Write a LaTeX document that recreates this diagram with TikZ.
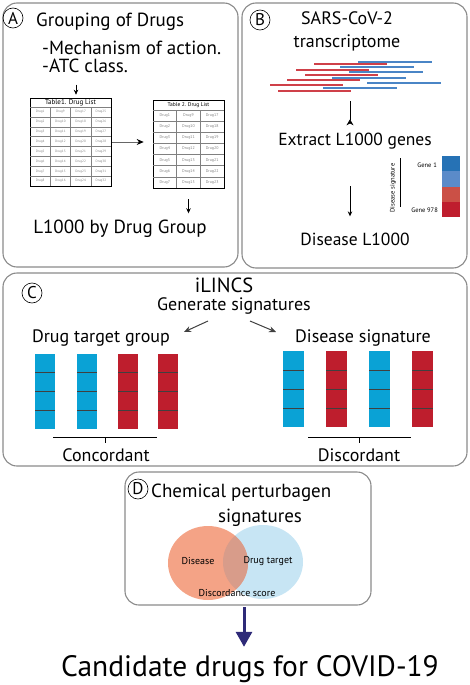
\documentclass[tikz,border=0pt]{standalone}
\usepackage{fontspec}
\setmainfont{PT Sans}
\usetikzlibrary{arrows.meta,positioning}

\definecolor{panelgray}{HTML}{8A8A8A}
\definecolor{sigblue}{HTML}{0AA2D5}
\definecolor{sigred}{HTML}{BE1E2D}
\definecolor{hmone}{HTML}{2672B5}
\definecolor{hmtwo}{HTML}{5B8BC9}
\definecolor{hmthree}{HTML}{CB5046}
\definecolor{hmfour}{HTML}{BF1E2E}
\definecolor{readred}{HTML}{CF4049}
\definecolor{readblue}{HTML}{4A85C6}
\definecolor{vennred}{HTML}{F4A386}
\definecolor{vennblue}{HTML}{C7E5F4}
\definecolor{vennmix}{HTML}{D89C8A}
\definecolor{navyarrow}{HTML}{2E2A78}

\begin{document}
\begin{tikzpicture}[x=1pt,y=-1pt,
  panel/.style={draw=panelgray,line width=1.1pt,rounded corners=14pt},
  letter/.style={draw,circle,line width=0.6pt,inner sep=0pt,minimum size=20pt,font=\fontsize{17}{17}\selectfont},
  big/.style={font=\fontsize{19}{19}\selectfont,inner sep=0pt},
  mid/.style={font=\fontsize{17.5}{17.5}\selectfont,inner sep=0pt},
  small/.style={font=\fontsize{10}{10}\selectfont,inner sep=0pt},
  tiny/.style={font=\fontsize{6.5}{6.5}\selectfont,inner sep=0pt},
  cell/.style={font=\fontsize{3.3}{3.3}\selectfont,text=gray,inner sep=0pt},
  grid/.style={draw=gray,line width=0.45pt},
  segline/.style={draw=black!75,line width=0.6pt},
  arr/.style={-{Stealth[length=5pt,width=4.5pt]},line width=0.7pt},
  garr/.style={-{Stealth[length=7pt,width=6pt]},draw=black!75,line width=1pt}]
\useasboundingbox (0,0) rectangle (470,685);

% panels
\draw[panel] (3,3) rectangle (238,267);
\draw[panel] (242,3) rectangle (467,268);
\draw[panel] (3,273) rectangle (467,466);
\draw[panel] (125,472) rectangle (371,605);

% A
\node[letter] (lA) at (13,18) {A};
\node[big,anchor=base west] (grp) at (36,27) {Grouping of Drugs};
\node[big,anchor=base west] (moa) at (42,55) {-Mechanism of action.};
\node[big,anchor=base west] (atc) at (42,73) {-ATC class.};

\node[draw,line width=0.6pt,minimum width=81pt,minimum height=88pt,inner sep=0pt] (tab1) at (70.5,142) {};
\node[draw,line width=0.6pt,minimum width=71pt,minimum height=88pt,inner sep=0pt] (tab2) at (188.5,144) {};
\node[font=\fontsize{7}{7}\selectfont,inner sep=0pt] (tit1) at (70.5,102.5) {Table1. Drug List};
\node[font=\fontsize{5.5}{5.5}\selectfont,inner sep=0pt] (tit2) at (188.5,105) {Table 2. Drug List};
\draw[grid] (30,107) -- (111,107);
\draw[grid] (153,110) -- (224,110);
\foreach \r in {1,...,8} {
  \ifnum\r<8 \draw[grid] (30,107+\r*9.875) -- (111,107+\r*9.875); \fi
  \foreach \c in {0,1,2,3} {
    \pgfmathtruncatemacro\n{\r+8*\c}
    \node[cell] (d1-\r-\c) at (40.1+\c*20.25,102.06+\r*9.875) {Drug\n};
  }
}
\foreach \c in {1,2,3} \draw[grid] (30+\c*20.25,107) -- (30+\c*20.25,186);
\foreach \r in {1,...,7} {
  \ifnum\r<7 \draw[grid] (153,110+\r*11.14) -- (224,110+\r*11.14); \fi
  \foreach \c in {0,1,2} {
    \pgfmathtruncatemacro\n{\r+8*\c}
    \node[cell,font=\fontsize{4}{4}\selectfont] (d2-\r-\c) at (164.8+\c*23.67,104.43+\r*11.14) {Drug\n};
  }
}
\foreach \c in {1,2} \draw[grid] (153+\c*23.67,110) -- (153+\c*23.67,188);

\node[big,anchor=base] (l1k) at (120,233) {L1000 by Drug Group};
\draw[arr] ([xshift=5.5pt,yshift=13pt]tab1.north) -- ([xshift=5.5pt,yshift=3pt]tab1.north);
\draw[-{Stealth[length=7pt,width=6pt,black]},draw=black!60,line width=0.8pt,shorten <=1pt,shorten >=9pt] (tab1.east) -- (tab1.east -| tab2.west);
\draw[arr,shorten <=11pt,shorten >=6pt] (tab2.south) -- (tab2.south |- l1k.north);

% B
\node[letter] (lB) at (260,20) {B};
\node[mid,font=\fontsize{18}{18}\selectfont,anchor=base] (sars) at (347,25) {SARS-CoV-2};
\node[mid,font=\fontsize{18}{18}\selectfont,anchor=base] (trs) at (347,48) {transcriptome};
\foreach \xa/\y in {358/62,340/67,349/72,332/78,367/83,323/88}
  \draw[readblue,line width=1.3pt] (\xa,\y) -- ++(74,0);
\foreach \xa/\y in {314/64,296/70,305/75,287/80,270/85,278/91}
  \draw[readred,line width=1.3pt] (\xa,\y) -- ++(73,0);
\coordinate (rd) at (350,101);
\node[mid,anchor=base] (ext) at (355,145) {Extract L1000 genes};
\draw[-{Stealth[length=6pt,width=7pt,reversed]},line width=0.7pt,shorten >=7pt] (rd) -- (rd |- ext.north);
\foreach \c [count=\i from 0] in {hmone,hmtwo,hmthree,hmfour}
  \fill[\c] (442,156+\i*15.25) rectangle ++(18,15.25);
\node[tiny,anchor=east] (g1) at (437,165) {Gene 1};
\node[tiny,anchor=east] (g978) at (438,210) {Gene 978};
\draw[line width=0.8pt] (400,158) -- (400,207);
\node[tiny,rotate=90] (dsig) at (393,188) {Disease signature};
\node[mid,anchor=base] (dl1k) at (355,245) {Disease L1000};
\coordinate (ea) at (350,186);
\draw[arr,shorten >=16pt] (ea) -- (ea |- dl1k.north);

% C
\node[letter] (lC) at (32,293) {C};
\node[font=\fontsize{20.5}{20.5}\selectfont,inner sep=0pt,anchor=base] (ilincs) at (224,292) {iLINCS};
\node[mid,font=\fontsize{18}{18}\selectfont,anchor=base] (gen) at (234,310) {Generate signatures};
\node[mid,font=\fontsize{18}{18}\selectfont,anchor=base] (dtg) at (101,342) {Drug target group};
\node[mid,font=\fontsize{18}{18}\selectfont,anchor=base] (dsg) at (363,342) {Disease signature};
\coordinate (ga) at (208,321);
\coordinate (gb) at (184,332);
\coordinate (gc) at (250,321);
\coordinate (gd) at (276,332);
\draw[garr] (ga) -- (gb);
\draw[garr] (gc) -- (gd);
\foreach \x/\c in {35/sigblue,77/sigblue,118/sigred,158/sigred} {
  \fill[\c] (\x,354) rectangle ++(20,75);
  \foreach \k in {1,2,3} \draw[segline] (\x,354+\k*18.75) -- ++(20,0);
}
\foreach \x/\c in {283/sigblue,326/sigred,369/sigblue,412/sigred} {
  \fill[\c] (\x,351) rectangle ++(21,76);
  \foreach \k in {1,2,3} \draw[segline] (\x,351+\k*19) -- ++(21,0);
}
\node[mid,font=\fontsize{18}{18}\selectfont,anchor=base] (conc) at (106,461) {Concordant};
\node[mid,font=\fontsize{18}{18}\selectfont,anchor=base] (disc) at (359,461) {Discordant};
\draw[line width=0.8pt] (53,437) -- (157,437) (105,437) -- (105,443);
\draw[line width=0.8pt] (308,437) -- (411,437) (359,437) -- (359,443);

% D
\node[letter] (lD) at (138,489) {D};
\node[big,anchor=base west] (chem) at (151,497) {Chemical perturbagen};
\node[big,anchor=base] (sigs) at (260,522) {signatures};
\fill[vennblue] (263,562) ellipse [x radius=40,y radius=37];
\fill[vennred] (208,563) ellipse [x radius=40,y radius=37];
\begin{scope}
  \clip (263,562) ellipse [x radius=40,y radius=37];
  \fill[vennmix] (208,563) ellipse [x radius=40,y radius=37];
\end{scope}
\node[small] (vdis) at (198,561) {Disease};
\node[small] (vdrug) at (268,561) {Drug target};
\node[small] (vscore) at (237,593) {Discordance score};

% result
\node[font=\fontsize{29.5}{29.5}\selectfont,inner sep=0pt,anchor=base] (cand) at (250,676) {Candidate drugs for COVID-19};
\coordinate (dbot) at (244,607);
\draw[-{Triangle[length=15pt,width=16pt]},navyarrow,line width=3pt,shorten >=8pt] (dbot) -- (dbot |- cand.north);
\end{tikzpicture}
\end{document}
